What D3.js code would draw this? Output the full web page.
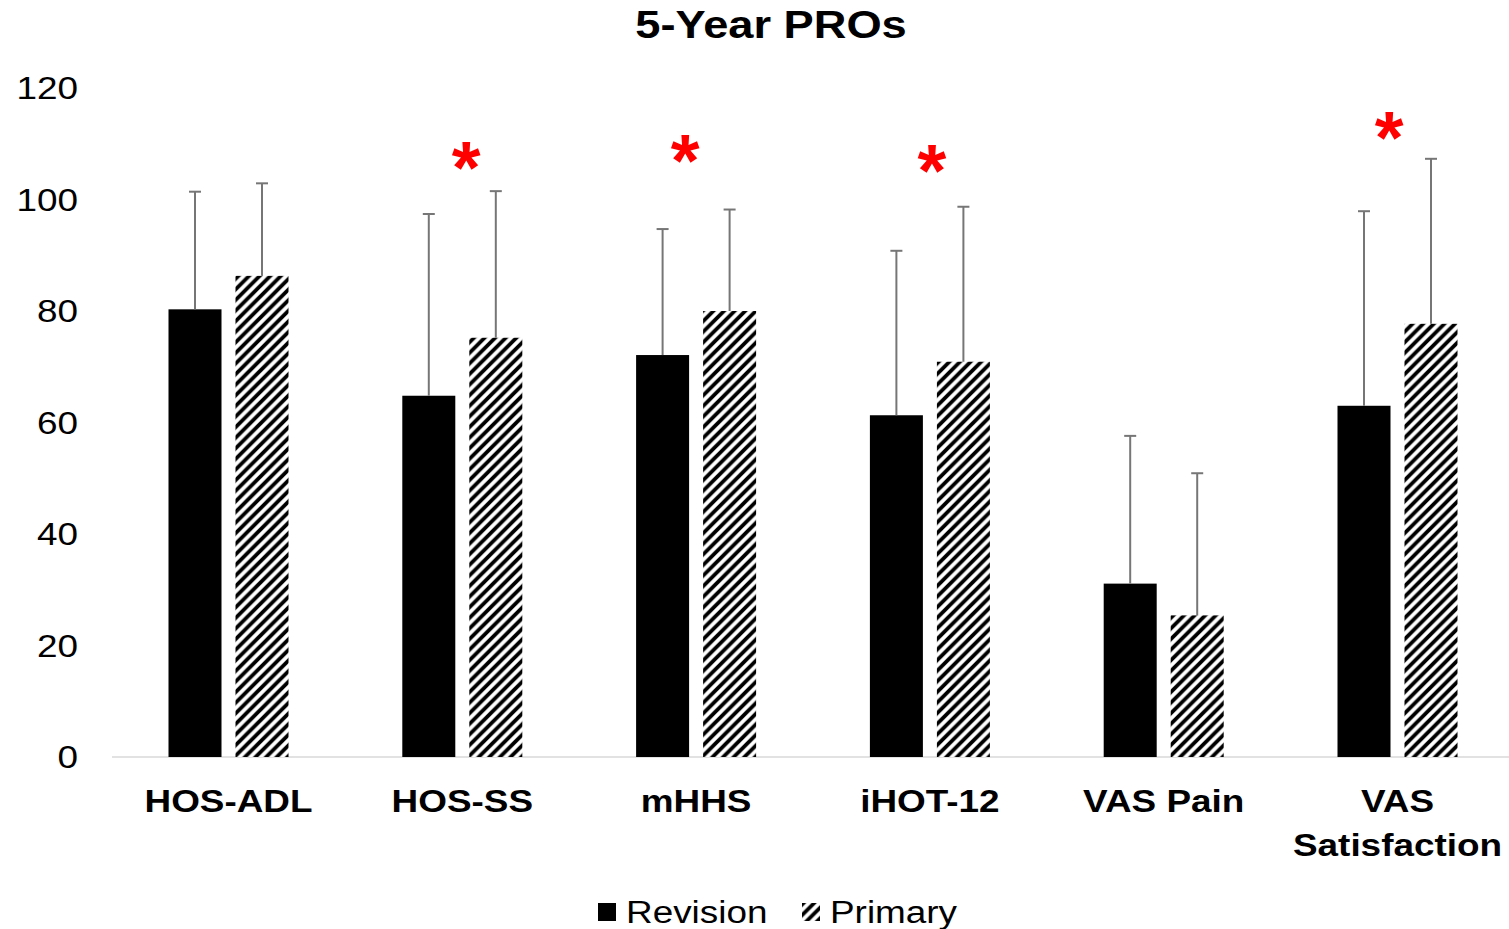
<!DOCTYPE html>
<html>
<head>
<meta charset="utf-8">
<script src="https://cdn.jsdelivr.net/npm/d3@7"></script>
<style>
  html, body { margin: 0; padding: 0; background: #fff; }
  svg { display: block; }
  text { font-family: "Liberation Sans", Arial, sans-serif; }
</style>
</head>
<body>
<svg id="chart" width="1509" height="929"></svg>
<script>
// ---- data ----
const categories = ["HOS-ADL", "HOS-SS", "mHHS", "iHOT-12", "VAS Pain", "VAS Satisfaction"];
const series = ["Revision", "Primary"];
const revisionMean = [80.3, 64.8, 72.1, 61.3, 31.1, 63.0];
const revisionSD   = [21.1, 32.6, 22.6, 29.5, 26.5, 34.9];
const primaryMean  = [86.3, 75.2, 80.0, 70.9, 25.4, 77.7];
const primarySD    = [16.6, 26.3, 18.2, 27.8, 25.5, 29.6];
const significant  = ["HOS-SS", "mHHS", "iHOT-12", "VAS Satisfaction"];
const sigLevel     = [108.0, 109.4, 107.6, 113.5];
const yTicks = [0, 20, 40, 60, 80, 100, 120];
const title = "5-Year PROs";

// ---- layout ----
const W = 1509, H = 929;
const sx = 1.19; // horizontal text stretch seen in the reference
const sigShift = [0.016, -0.047, 0.009, -0.036]; // asterisk offset, in category steps
const svg = d3.select("#chart");

const defs = svg.append("defs");
const T = 10.6;
const pat = defs.append("pattern")
  .attr("id", "diag")
  .attr("patternUnits", "userSpaceOnUse")
  .attr("width", T).attr("height", T);
pat.append("rect").attr("width", T).attr("height", T).attr("fill", "#fff");
pat.append("path")
  .attr("d", `M-2,2 L2,-2 M0,${T} L${T},0 M${T - 2},${T + 2} L${T + 2},${T - 2}`)
  .attr("stroke", "#000").attr("stroke-width", 3.8);

const y = d3.scaleLinear().domain([0, 120]).range([757, 88]);
const x = d3.scaleBand().domain(categories).range([111.6, 1514.4]).padding(0);
const step = x.bandwidth();
const xs = d3.scaleBand().domain(series)
  .range([step / 2 - 60, step / 2 + 60]).paddingInner(0.209).paddingOuter(0);

const rows = categories.map((c, i) => ({
  cat: c,
  vals: [
    { s: "Revision", m: revisionMean[i], sd: revisionSD[i] },
    { s: "Primary",  m: primaryMean[i],  sd: primarySD[i] }
  ]
}));

// baseline
svg.append("line")
  .attr("x1", 112).attr("x2", W)
  .attr("y1", y(0)).attr("y2", y(0))
  .attr("stroke", "#d9d9d9").attr("stroke-width", 1.5);

// y tick labels
svg.append("g").selectAll("text").data(yTicks).join("text")
  .attr("transform", d => `translate(78,${y(d) + 11}) scale(${sx},1)`)
  .attr("text-anchor", "end")
  .attr("font-size", 31)
  .attr("fill", "#000")
  .text(d => d);

// bars
const g = svg.append("g").selectAll("g").data(rows).join("g")
  .attr("transform", d => `translate(${x(d.cat)},0)`);

g.selectAll("rect").data(d => d.vals).join("rect")
  .attr("x", d => xs(d.s))
  .attr("width", xs.bandwidth())
  .attr("y", d => y(d.m))
  .attr("height", d => y(0) - y(d.m))
  .attr("fill", d => d.s === "Revision" ? "#000" : "url(#diag)");

// error bars
const eb = g.selectAll("g.err").data(d => d.vals).join("g").attr("class", "err")
  .attr("stroke", "#767676").attr("stroke-width", 2);
eb.append("line")
  .attr("x1", d => xs(d.s) + xs.bandwidth() / 2)
  .attr("x2", d => xs(d.s) + xs.bandwidth() / 2)
  .attr("y1", d => y(d.m))
  .attr("y2", d => y(d.m + d.sd));
eb.append("line")
  .attr("x1", d => xs(d.s) + xs.bandwidth() / 2 - 6)
  .attr("x2", d => xs(d.s) + xs.bandwidth() / 2 + 6)
  .attr("y1", d => y(d.m + d.sd))
  .attr("y2", d => y(d.m + d.sd));

// significance asterisks
const asFs = 74;
svg.append("g").selectAll("text").data(significant).join("text")
  .attr("x", (d, i) => x(d) + step / 2 + sigShift[i] * step)
  .attr("y", (d, i) => y(sigLevel[i]) + asFs * 0.52)
  .attr("text-anchor", "middle")
  .attr("font-size", asFs)
  .attr("font-weight", "bold")
  .attr("fill", "#ff0000")
  .text("*");

// category labels
const lab = svg.append("g").selectAll("text").data(categories).join("text")
  .attr("transform", d => `translate(${x(d) + step / 2},812) scale(${sx},1)`)
  .attr("text-anchor", "middle")
  .attr("font-size", 31)
  .attr("font-weight", "bold")
  .attr("fill", "#000");
lab.each(function(d) {
  const parts = d === "VAS Satisfaction" ? ["VAS", "Satisfaction"] : [d];
  d3.select(this).selectAll("tspan").data(parts).join("tspan")
    .attr("x", 0).attr("dy", (p, i) => i === 0 ? 0 : 44)
    .text(p => p);
});

// title
svg.append("text")
  .attr("transform", `translate(771,38) scale(${sx},1)`)
  .attr("text-anchor", "middle")
  .attr("font-size", 38)
  .attr("font-weight", "bold")
  .attr("fill", "#000")
  .text(title);

// legend
const legend = svg.append("g");
const legX = [598, 802];
series.forEach((s, i) => {
  legend.append("rect")
    .attr("x", legX[i]).attr("y", 903)
    .attr("width", 18).attr("height", 18)
    .attr("fill", s === "Revision" ? "#000" : "url(#diag)");
  legend.append("text")
    .attr("transform", `translate(${legX[i] + 28},923) scale(${sx},1)`)
    .attr("font-size", 31)
    .attr("fill", "#000")
    .text(s);
});
</script>
</body>
</html>
